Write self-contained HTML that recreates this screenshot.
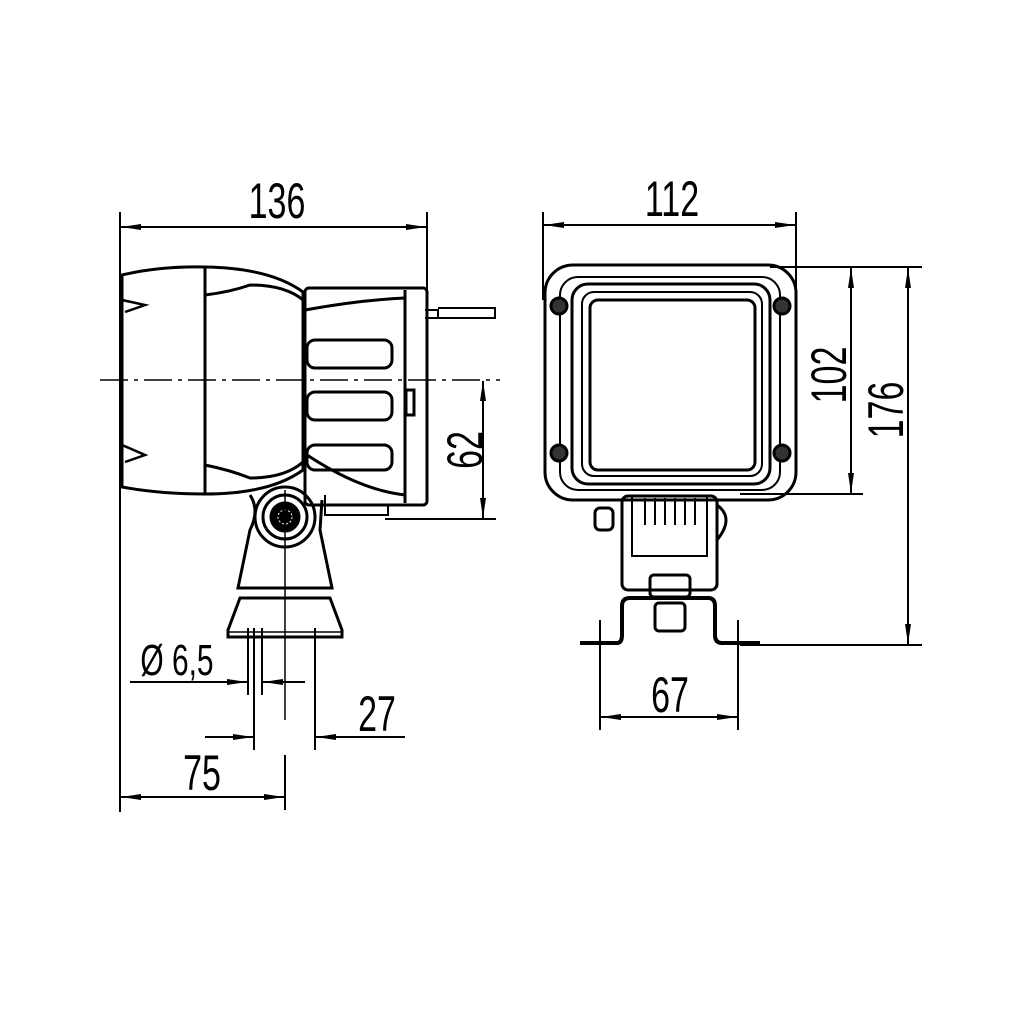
<!DOCTYPE html>
<html><head><meta charset="utf-8"><style>
html,body{margin:0;padding:0;background:#fff}
svg{display:block}
text{font-family:"Liberation Sans",sans-serif;font-size:50px;fill:#000}
</style></head><body>
<svg width="1024" height="1024" viewBox="0 0 1024 1024" xmlns="http://www.w3.org/2000/svg">
<defs>
<marker id="a" viewBox="0 0 20 8" refX="20" refY="4" markerWidth="20" markerHeight="8" markerUnits="userSpaceOnUse" orient="auto-start-reverse"><path d="M0,1 L20,4 L0,7 Z" fill="#000"/></marker>
</defs>
<g stroke="#000" fill="none" stroke-width="2">
<!-- LEFT VIEW dims -->
<line x1="120" y1="212" x2="120" y2="812"/>
<line x1="427" y1="212" x2="427" y2="300"/>
<line x1="121" y1="227" x2="426" y2="227" marker-start="url(#a)" marker-end="url(#a)"/>
<line x1="100" y1="380" x2="500" y2="380" stroke-dasharray="28,6,4,6" stroke-width="1.5"/>
<line x1="385" y1="519" x2="496" y2="519"/>
<line x1="483" y1="381" x2="483" y2="518" marker-start="url(#a)" marker-end="url(#a)"/>
<!-- left body -->
<g stroke-width="3">
<path d="M122,275 Q160,266 205,267 L205,494 Q160,494 122,487 Z"/>
<path d="M205,267 Q270,268 303,292 L303,470 Q270,494 205,494"/>
<path d="M205,295 Q230,292 250,285 Q285,285 303,300"/>
<path d="M205,465 Q230,470 250,478 Q285,478 303,462"/>
<path d="M122,300 L145,305 L125,312" stroke-width="2.5"/>
<path d="M122,445 L145,455 L125,462" stroke-width="2.5"/>
<path d="M305,292 L305,470"/>
<rect x="305" y="288" width="122" height="217" rx="4"/>
<line x1="405" y1="290" x2="405" y2="503"/>
<rect x="307" y="340" width="85" height="28" rx="8"/>
<rect x="307" y="392" width="85" height="28" rx="8"/>
<rect x="307" y="445" width="85" height="25" rx="8"/>
<path d="M305,310 Q360,300 405,298"/>
<path d="M307,455 Q360,490 405,495"/>
<rect x="406" y="390" width="8" height="25"/>
<path d="M425,310 L438,310 L438,318 L425,318" stroke-width="2"/>
<path d="M438,308 L495,308 L495,318 L438,318" stroke-width="2"/>
<path d="M325,495 L325,515 L388,515 L388,505" stroke-width="2"/>
<!-- mount -->
<path d="M250,495 Q260,510 250,530 L238,588 L332,588 L320,530 L322,500"/>
<circle cx="285" cy="517" r="30"/>
<circle cx="285" cy="517" r="22"/>
<circle cx="285" cy="517" r="14" fill="#000"/>
<path d="M240,598 L330,598 L342,630 L342,637 L228,637 L228,630 Z"/>
<line x1="228" y1="632" x2="342" y2="632" stroke-width="1.5"/>
</g>
<circle cx="285" cy="517" r="7" stroke="#fff" stroke-width="1" stroke-dasharray="2,2"/>
<!-- lower dims left -->
<line x1="285" y1="490" x2="285" y2="720" stroke-width="1.5"/>
<line x1="248" y1="628" x2="248" y2="695"/>
<line x1="262" y1="628" x2="262" y2="695"/>
<line x1="130" y1="682" x2="247" y2="682" marker-end="url(#a)"/>
<line x1="305" y1="682" x2="263" y2="682" marker-end="url(#a)"/>
<line x1="254" y1="628" x2="254" y2="750"/>
<line x1="315" y1="628" x2="315" y2="750"/>
<line x1="205" y1="737" x2="253" y2="737" marker-end="url(#a)"/>
<line x1="405" y1="737" x2="316" y2="737" marker-end="url(#a)"/>
<line x1="285" y1="755" x2="285" y2="810"/>
<line x1="121" y1="797" x2="284" y2="797" marker-start="url(#a)" marker-end="url(#a)"/>

<!-- RIGHT VIEW dims -->
<line x1="543" y1="212" x2="543" y2="300"/>
<line x1="796" y1="212" x2="796" y2="300"/>
<line x1="544" y1="225" x2="795" y2="225" marker-start="url(#a)" marker-end="url(#a)"/>
<line x1="770" y1="267" x2="922" y2="267"/>
<line x1="740" y1="494" x2="863" y2="494"/>
<line x1="740" y1="645" x2="922" y2="645"/>
<line x1="851" y1="268" x2="851" y2="493" marker-start="url(#a)" marker-end="url(#a)"/>
<line x1="908" y1="268" x2="908" y2="644" marker-start="url(#a)" marker-end="url(#a)"/>
<line x1="600" y1="620" x2="600" y2="730"/>
<line x1="738" y1="620" x2="738" y2="730"/>
<line x1="601" y1="717" x2="737" y2="717" marker-start="url(#a)" marker-end="url(#a)"/>
<!-- housing -->
<g stroke-width="3">
<rect x="545" y="265" width="251" height="235" rx="28"/>
<rect x="560" y="277" width="220" height="213" rx="18" stroke-width="2"/>
<rect x="572" y="284" width="198" height="200" rx="16"/>
<rect x="582" y="292" width="180" height="184" rx="12" stroke-width="2"/>
<rect x="590" y="300" width="165" height="170" rx="8"/>
<circle cx="559" cy="306" r="8" fill="#333"/>
<circle cx="782" cy="306" r="8" fill="#333"/>
<circle cx="559" cy="453" r="8" fill="#333"/>
<circle cx="782" cy="453" r="8" fill="#333"/>
<rect x="622" y="496" width="95" height="94" rx="6"/>
<rect x="632" y="496" width="75" height="60" stroke-width="2"/>
<line x1="645" y1="498" x2="645" y2="525" stroke-width="2"/><line x1="655" y1="498" x2="655" y2="525" stroke-width="2"/>
<line x1="665" y1="498" x2="665" y2="525" stroke-width="2"/><line x1="675" y1="498" x2="675" y2="525" stroke-width="2"/>
<line x1="685" y1="498" x2="685" y2="525" stroke-width="2"/><line x1="695" y1="498" x2="695" y2="525" stroke-width="2"/>
<rect x="595" y="508" width="18" height="22" rx="5"/>
<path d="M717,505 Q735,518 717,540"/>
<rect x="650" y="575" width="40" height="22" rx="4"/>
<path d="M580,643 L617,643 Q622,643 622,635 L622,606 Q622,598 630,598 L708,598 Q715,598 715,606 L715,635 Q715,643 722,643 L760,643" stroke-width="4"/>
<rect x="655" y="603" width="30" height="28" rx="4"/>
</g>
</g>
<g>
<text x="277" y="218" text-anchor="middle" transform="translate(277 0) scale(0.68 1) translate(-277 0)">136</text>
<text x="672" y="216" text-anchor="middle" transform="translate(672 0) scale(0.68 1) translate(-672 0)">112</text>
<text transform="translate(482 450) rotate(-90) scale(0.68 1)" x="0" y="0" text-anchor="middle" dy="0">62</text>
<text transform="translate(846 375) rotate(-90) scale(0.68 1)" text-anchor="middle">102</text>
<text transform="translate(903 410) rotate(-90) scale(0.68 1)" text-anchor="middle">176</text>
<text x="177" y="675" text-anchor="middle" style="font-size:44px" transform="translate(177 0) scale(0.68 1) translate(-177 0)">Ø 6,5</text>
<text x="377" y="731" text-anchor="middle" transform="translate(377 0) scale(0.68 1) translate(-377 0)">27</text>
<text x="202" y="790" text-anchor="middle" transform="translate(202 0) scale(0.68 1) translate(-202 0)">75</text>
<text x="670" y="712" text-anchor="middle" transform="translate(670 0) scale(0.68 1) translate(-670 0)">67</text>
</g>
</svg>
</body></html>
